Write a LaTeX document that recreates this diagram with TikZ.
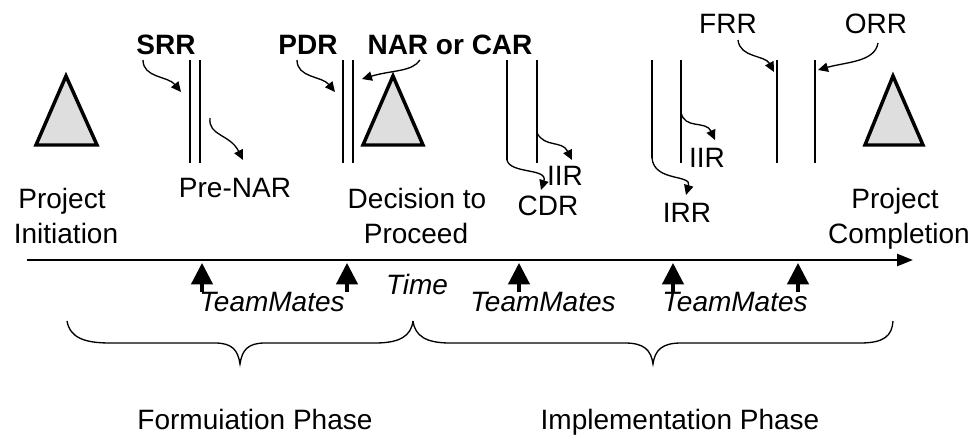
\documentclass[tikz,border=0pt]{standalone}
\usepackage{fontspec}
\setmainfont{Liberation Sans}
\usetikzlibrary{arrows.meta}
\begin{document}
\begin{tikzpicture}[x=0.75pt,y=-0.75pt,
  lbl/.style={font=\fontsize{21}{24}\selectfont, inner sep=0pt, anchor=base},
  blbl/.style={lbl, font=\fontsize{21}{24}\selectfont\bfseries},
  ilbl/.style={lbl, font=\fontsize{21}{24}\selectfont\itshape},
  review/.style={line width=1.9pt},
  pointer/.style={line width=1pt, -{Triangle[length=7.5pt,width=7pt]}},
  milestone/.style={line width=2.6pt, fill=black!13, line join=miter},
  timeline/.style={line width=2pt, -{Triangle[length=12pt,width=9pt]}},
  teammark/.style={line width=2.4pt, -{Triangle[length=16pt,width=16pt]}},
  brace/.style={line width=1pt}]
\useasboundingbox (0,0) rectangle (968,436);

% milestones (triangles)
\draw[milestone] (66,76) -- (36,145) -- (97,145) -- cycle;
\draw[milestone] (393,76) -- (363,145) -- (423,145) -- cycle;
\draw[milestone] (893,76) -- (865,145) -- (923,145) -- cycle;

% milestone labels
\node[lbl] (pi1) at (62,208) {Project};
\node[lbl] (pi2) at (66,243) {Initiation};
\node[lbl] (dp1) at (417,208) {Decision to};
\node[lbl] (dp2) at (416,243) {Proceed};
\node[lbl] (pc1) at (895,208) {Project};
\node[lbl] (pc2) at (899,243) {Completion};

% review labels
\node[blbl] (srr) at (166,54) {SRR};
\node[blbl] (pdr) at (308,54) {PDR};
\node[blbl] (nar) at (450,54) {NAR or CAR};
\node[lbl] (frr) at (728,33) {FRR};
\node[lbl] (orr) at (876,33) {ORR};
\node[lbl] (prenar) at (235,197) {Pre-NAR};
\node[lbl] (iir1) at (565,185) {IIR};
\node[lbl] (cdr) at (548,215) {CDR};
\node[lbl] (iir2) at (707,167) {IIR};
\node[lbl] (irr) at (687,222) {IRR};

% review lines
\coordinate (s1t) at (190,60); \coordinate (s1b) at (190,163);
\coordinate (s2t) at (200,60); \coordinate (s2b) at (200,163);
\coordinate (p1t) at (343,60); \coordinate (p1b) at (343,163);
\coordinate (p2t) at (353,60); \coordinate (p2b) at (353,163);
\coordinate (ct) at (507,60); \coordinate (cb) at (507,160);
\coordinate (it) at (537,60); \coordinate (ib) at (537,163);
\coordinate (rt) at (652,60); \coordinate (rb) at (652,158);
\coordinate (jt) at (681,60); \coordinate (jb) at (681,163);
\coordinate (ft) at (777,60); \coordinate (fb) at (777,163);
\coordinate (ot) at (815,60); \coordinate (ob) at (815,163);
\foreach \a/\b in {s1t/s1b,s2t/s2b,p1t/p1b,p2t/p2b,ct/cb,it/ib,rt/rb,jt/jb,ft/fb,ot/ob}
  \draw[review] (\a) -- (\b);

% pointers
\draw[pointer] (143,60) .. controls (143,78) and (168,76) .. (181,92);
\draw[pointer] (210,118) .. controls (208,136) and (230,134) .. (243,160);
\draw[pointer] (297,60) .. controls (297,78) and (322,76) .. (335,92);
\draw[pointer] (420,60) .. controls (412,72) and (392,70) .. (362,79);
\draw[pointer] (cb) .. controls (510,174) and (548,168) .. (541,190);
\draw[pointer] (537,133) .. controls (545,148) and (562,140) .. (572,160);
\draw[pointer] (rb) .. controls (654,182) and (692,174) .. (686,195);
\draw[pointer] (681,112) .. controls (684,130) and (706,120) .. (715,140);
\draw[pointer] (738,40) .. controls (740,58) and (765,55) .. (774,72);
\draw[pointer] (878,43) .. controls (875,62) and (846,62) .. (818,70);

% time axis
\coordinate (t0) at (27,260);
\coordinate (t1) at (913,260);
\draw[timeline] (t0) -- (t1);
\node[ilbl] (time) at (417,294) {Time};

\foreach \x [count=\i] in {202,347,519,673,798}{
  \coordinate (m\i) at (\x,292);
  \coordinate (mt\i) at (\x,263);
  \draw[teammark] (m\i) -- (mt\i);
}
\node[ilbl] (tm1) at (272,311) {TeamMates};
\node[ilbl] (tm2) at (543,311) {TeamMates};
\node[ilbl] (tm3) at (735,311) {TeamMates};

% braces
\draw[brace] (67,321) .. controls (70,338) and (85,343) .. (110,343) -- (215,343)
  .. controls (232,343) and (238,350) .. (240,364)
  .. controls (242,350) and (248,343) .. (265,343) -- (375,343)
  .. controls (400,343) and (411,336) .. (413,321);
\draw[brace] (413,321) .. controls (415,336) and (426,343) .. (450,343) -- (625,343)
  .. controls (644,343) and (651,350) .. (653,364)
  .. controls (655,350) and (662,343) .. (681,343) -- (860,343)
  .. controls (884,343) and (892,336) .. (893,321);

\node[lbl] (fp) at (255,429) {Formuiation Phase};
\node[lbl] (ip) at (680,429) {Implementation Phase};
\end{tikzpicture}
\end{document}
